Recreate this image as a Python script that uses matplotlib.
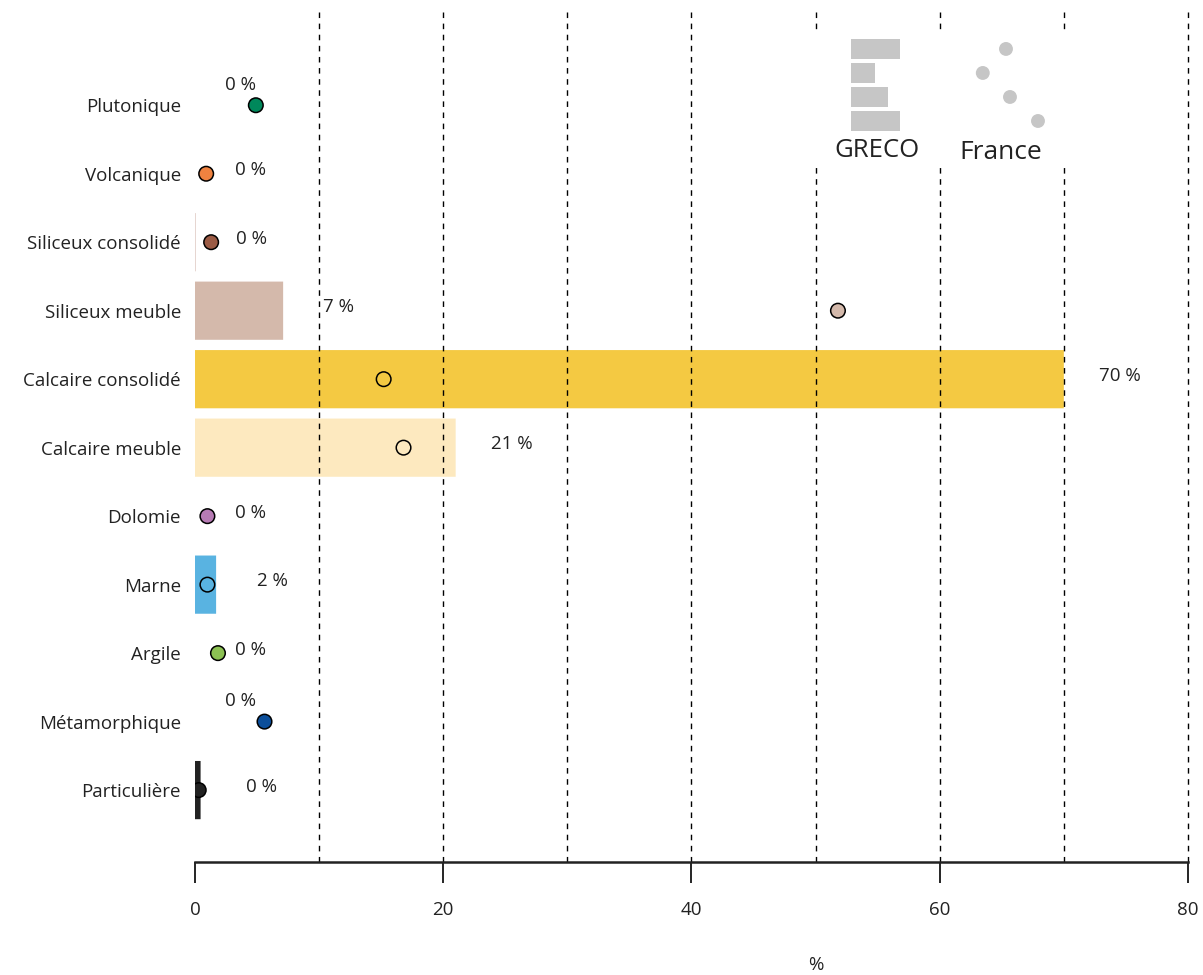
import matplotlib
matplotlib.use("Agg")
import matplotlib.pyplot as plt
import numpy as np

plt.rcParams['font.family'] = ['Open Sans', 'DejaVu Sans']

categories = ["Plutonique", "Volcanique", "Siliceux consolidé", "Siliceux meuble",
              "Calcaire consolidé", "Calcaire meuble", "Dolomie", "Marne",
              "Argile", "Métamorphique", "Particulière"]
greco = [0, 0, 0.02, 7.1, 70, 21, 0, 1.7, 0, 0, 0.45]
france = [4.9, 0.9, 1.3, 51.8, 15.2, 16.8, 1.0, 1.0, 1.85, 5.6, 0.3]
labels = ["0 %", "0 %", "0 %", "7 %", "70 %", "21 %", "0 %", "2 %", "0 %", "0 %", "0 %"]
colors = ["#00885b", "#ef8240", "#9b5b45", "#d4b9ab", "#f4c942", "#fde9bf",
          "#b77bb4", "#59b3e1", "#8cc153", "#0b4e9a", "#222222"]
xticks = [0, 20, 40, 60, 80]
gridx = [10, 20, 30, 40, 50, 60, 70, 80]

# legend glyphs
leg_bar_widths = [1.0, 0.5, 0.75, 1.0]
leg_dot_x = [0.45, 0.16, 0.5, 0.85]

fig = plt.figure(figsize=(12.03, 9.75), dpi=100)
ax = fig.add_axes([0.1621, 0.1159, 0.8254, 0.8738])

y = np.arange(len(categories))
bars = ax.barh(y, greco, height=0.85, color=colors, zorder=1)
for b in bars:
    b.set_snap(False)
for xv in gridx:
    ax.axvline(xv, color="black", lw=1, ls=(0, (4, 4)), zorder=2, clip_on=False)
ax.scatter(france, y, s=110, c=colors, edgecolors="black", linewidths=1.1, zorder=4)

# value labels next to the bar end
for i, (g, lab) in enumerate(zip(greco, labels)):
    dx, dy = 4.5, -0.05
    if categories[i] in ("Plutonique", "Métamorphique"):
        dx, dy = 3.7, -0.3
    if categories[i] == "Particulière":
        dx = 4.9
    ax.text(g + dx, i + dy, lab, ha="center", va="center", fontsize=13.5,
            color="#222222", zorder=5)

ax.set_xlim(0, 80)
ax.set_ylim(11.05, -1.39)
ax.set_yticks(y)
ax.set_yticklabels(categories, fontsize=13.5, color="#222222")
ax.tick_params(axis="y", length=0, pad=10)
ax.set_xticks(xticks)
ax.set_xticklabels([str(t) for t in xticks], fontsize=13.5, color="#222222")
ax.tick_params(axis="x", length=15, width=1.2, pad=13, direction="out")
for s in ("left", "right", "top"):
    ax.spines[s].set_visible(False)
ax.spines["bottom"].set_linewidth(1.8)
ax.spines["bottom"].set_color("#222222")
ax.set_xlabel("%", fontsize=13.5, color="#222222")
ax.xaxis.set_label_coords(50 / 80, -0.110)

# white box hiding grid behind legend
ax.add_patch(plt.Rectangle((45, -1.04), 30, 1.9, facecolor="white",
                           edgecolor="none", zorder=3))

# legend: GRECO bars and France dots
lax = fig.add_axes([0.7074, 0.8636, 0.0407, 0.0985])
lax.barh(np.arange(4), leg_bar_widths, height=0.82, color="#c6c6c6", left=0)
lax.set_xlim(0, 1)
lax.set_ylim(3.5, -0.5)
lax.axis("off")
fig.text(0.7290, 0.846, "GRECO", ha="center", va="center", fontsize=18.5, color="#222222")

dax = fig.add_axes([0.8063, 0.8636, 0.0665, 0.0985])
dax.scatter(leg_dot_x, np.arange(4), s=100, color="#c6c6c6", edgecolors="none")
dax.set_xlim(0, 1)
dax.set_ylim(3.5, -0.5)
dax.axis("off")
fig.text(0.8315, 0.844, "France", ha="center", va="center", fontsize=19, color="#222222")

fig.savefig("out.png", dpi=100)
